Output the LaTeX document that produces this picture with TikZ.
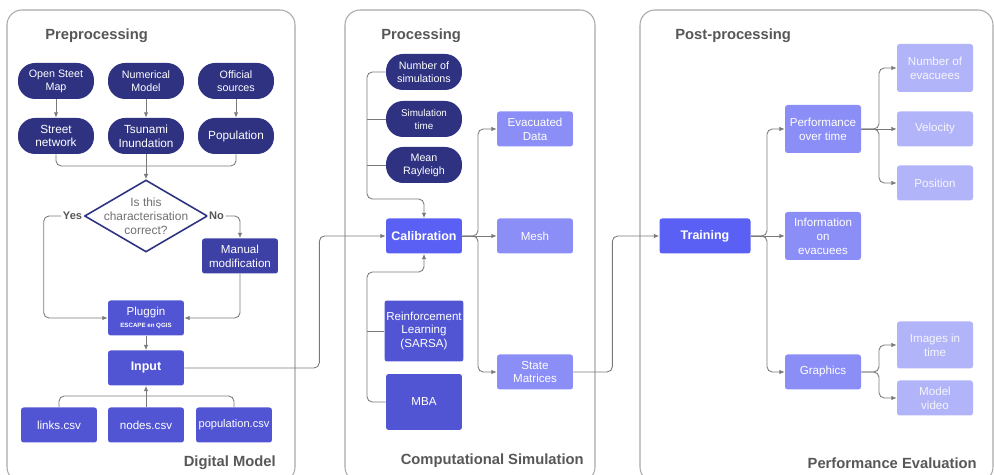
\documentclass[tikz,border=0pt]{standalone}
\usepackage{fontspec}
\setmainfont{Liberation Sans}
\usepackage{tikz}
\usetikzlibrary{arrows.meta,shapes.geometric}
\definecolor{navy}{HTML}{2E3281}
\definecolor{indigo}{HTML}{3D40A4}
\definecolor{midblue}{HTML}{5155D4}
\definecolor{bright}{HTML}{5B60F4}
\definecolor{soft}{HTML}{8B8EF6}
\definecolor{pale}{HTML}{B2B4F9}
\definecolor{wire}{HTML}{7A7A7A}
\definecolor{frame}{HTML}{A8A8A8}
\definecolor{heading}{HTML}{575757}
\tikzset{every picture/.append style={x=0.02cm, y=-0.02cm}}
\tikzset{panel/.style={draw=frame, line width=0.6pt, rounded corners=0.3cm}}
\tikzset{title/.style={text=heading, inner sep=0pt, font=\fontsize{8.4}{10}\selectfont\bfseries}}
\tikzset{pill/.style={fill=navy, text=white, rounded corners=0.34cm, minimum width=1.52cm, minimum height=0.72cm, align=center, inner sep=1pt, font=\fontsize{6.1}{7.4}\selectfont}}
\tikzset{big/.style={font=\fontsize{6.7}{7.9}\selectfont}}
\tikzset{box/.style={fill=#1, text=white, rounded corners=1.5pt, minimum width=1.52cm, minimum height=0.7cm, align=center, inner sep=1pt, font=\fontsize{6.6}{7.9}\selectfont}}
\tikzset{box/.default=midblue}
\tikzset{lightbox/.style={box=soft}}
\tikzset{palebox/.style={box=pale, text=white!88!pale}}
\tikzset{bold/.style={font=\fontsize{7.1}{8.4}\selectfont\bfseries}}
\tikzset{decision/.style={diamond, draw=navy, line width=0.9pt, fill=white, minimum width=2.46cm, minimum height=1.44cm, inner sep=0pt}}
\tikzset{asktext/.style={text=heading!85, align=center, inner sep=0pt, font=\fontsize{6.8}{7.9}\selectfont}}
\tikzset{choice/.style={text=heading, fill=white, inner sep=1pt, font=\fontsize{6.3}{7.5}\selectfont\bfseries}}
\tikzset{edge/.style={draw=wire, line width=0.5pt, rounded corners=3pt}}
\tikzset{arc/.style={edge, -{Latex[length=3pt,width=2.6pt]}}}

\begin{document}
\begin{tikzpicture}
\useasboundingbox (0,0) rectangle (994,475);
% three panels
\draw[panel] (7,10) rectangle (295,482);
\draw[panel] (345,10) rectangle (595,482);
\draw[panel] (640,10) rectangle (993,482);
\node (t1) at (45,36)[title, anchor=west]{Preprocessing};
\node (t2) at (381,36)[title, anchor=west]{Processing};
\node (t3) at (675,36)[title, anchor=west]{Post-processing};
\node (b1) at (276,463)[title, anchor=east]{Digital Model};
\node (b2) at (584,461)[title, anchor=east]{Computational Simulation};
\node (b3) at (977,463)[title, anchor=east]{Performance Evaluation};

% digital model
\node (osm) at (56,81)[pill]{Open Steet\\Map};
\node (num) at (146,81)[pill]{Numerical\\Model};
\node (off) at (236,81)[pill]{Official\\sources};
\node (str) at (56,136)[pill, big]{Street\\network};
\node (tsu) at (146,136)[pill, big]{Tsunami\\Inundation};
\node (pop) at (236,136)[pill, big]{Population};
\draw[arc] (osm) -- (str);
\draw[arc] (num) -- (tsu);
\draw[arc] (off) -- (pop);
\node (dia) at (146,216)[decision]{};
\node (ask) at (dia)[asktext]{Is this\\characterisation\\correct?};
\coordinate (m1) at (146,166);
\draw[edge] (str.south) |- (m1) -| (pop.south);
\draw[arc] (tsu) -- (dia);
\node (man) at (240,256)[box=indigo]{Manual\\modification};
\node (plug) at (146,318)[box]{Pluggin\\[-1.5pt]{\fontsize{3.5}{4}\selectfont\bfseries ESCAPE en QGIS}};
\node (inp) at (146,368)[box, bold]{Input};
\draw[arc] (dia.west) -- ++(-40,0) node (yes)[choice, pos=0.28]{Yes} |- (plug.west);
\draw[arc] (dia.east) -| node (no)[choice, pos=0.13]{No} (man.north);
\draw[arc] (man.south) |- (plug.east);
\draw[arc] (plug) -- (inp);
\node (lk) at (59,425)[box]{links.csv};
\node (nc) at (146,425)[box]{nodes.csv};
\node (pc) at (234,425)[box, font=\fontsize{6.3}{7.5}\selectfont]{population.csv};
\coordinate (m2) at (146,396);
\draw[edge] (lk.north) |- (m2) -| (pc.north);
\draw[arc] (nc) -- (inp);

% computational simulation
\node (nsim) at (424,72)[pill]{Number of\\simulations};
\node (stime) at (424,119)[pill, font=\fontsize{5.6}{7.4}\selectfont]{Simulation\\time};
\node (ray) at (424,165)[pill]{Mean\\Rayleigh};
\node (cal) at (424,236)[box=bright, bold]{Calibration};
\draw[arc] (inp.east) -- ++(135,0) |- (cal.west);
\coordinate (m3) at (367,199);
\draw[arc] (nsim.west) -| (m3) -| (cal.north);
\draw[edge] (stime.west) -- (stime.west -| m3);
\draw[edge] (ray.west) -- (ray.west -| m3);
\node (rl) at (424,331)[box, minimum height=1.22cm]{Reinforcement\\Learning\\(SARSA)};
\node (mba) at (424,402)[box, minimum height=1.12cm]{MBA};
\coordinate (m4) at (367,272);
\draw[arc] (mba.west) -| (m4) -| (cal.south);
\draw[edge] (rl.west) -- (rl.west -| m4);
\node (evac) at (535,129)[lightbox]{Evacuated\\Data};
\node (mesh) at (535,236)[lightbox]{Mesh};
\node (stm) at (535,372)[lightbox]{State\\Matrices};
\coordinate (m5) at (478,236);
\draw[arc] (cal) -- (mesh);
\draw[arc] (cal.east) -- (m5) |- (evac.west);
\draw[arc] (cal.east) -- (m5) |- (stm.west);

% performance evaluation
\node (train) at (705,236)[box=bright, bold, minimum width=1.82cm]{Training};
\draw[arc] (stm.east) -- ++(39,0) |- (train.west);
\node (perf) at (823,129)[lightbox, minimum height=0.96cm]{Performance\\over time};
\node (info) at (823,236)[lightbox, minimum height=0.96cm]{Information\\on\\evacuees};
\node (gra) at (823,372)[lightbox]{Graphics};
\coordinate (m6) at (767,236);
\draw[arc] (train) -- (info);
\draw[arc] (train.east) -- (m6) |- (perf.west);
\draw[arc] (train.east) -- (m6) |- (gra.west);
\node (nev) at (935,68)[palebox, minimum height=0.96cm]{Number of\\evacuees};
\node (vel) at (935,129)[palebox]{Velocity};
\node (posn) at (935,183)[palebox]{Position};
\coordinate (m7) at (879,129);
\draw[arc] (perf) -- (vel);
\draw[arc] (perf.east) -- (m7) |- (nev.west);
\draw[arc] (perf.east) -- (m7) |- (posn.west);
\node (img) at (935,345)[palebox, minimum height=0.94cm]{Images in\\time};
\node (vid) at (935,398)[palebox]{Model\\video};
\coordinate (m8) at (879,372);
\draw[arc] (gra.east) -- (m8) |- (img.west);
\draw[arc] (gra.east) -- (m8) |- (vid.west);
\end{tikzpicture}
\end{document}
